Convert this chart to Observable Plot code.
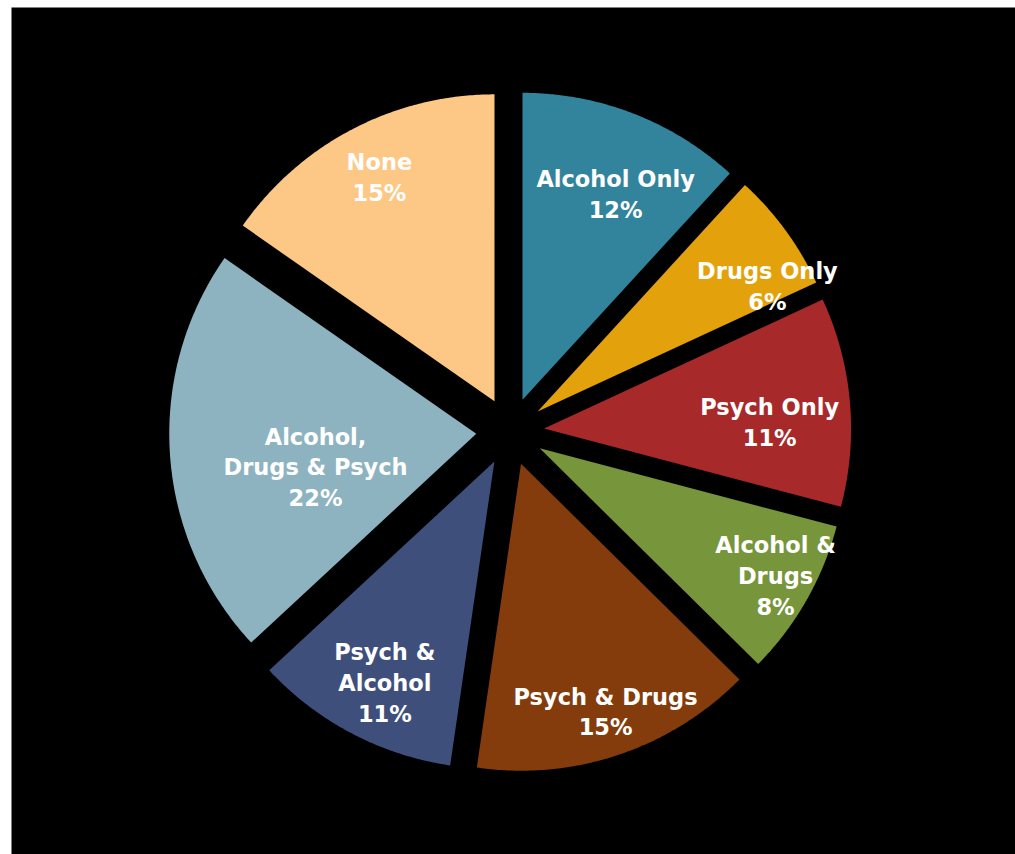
<!DOCTYPE html>
<html>
<head>
<meta charset="utf-8">
<script src="https://cdn.jsdelivr.net/npm/d3@7"></script>
<script src="https://cdn.jsdelivr.net/npm/@observablehq/plot@0.6"></script>
<style>
  html, body { margin: 0; padding: 0; background: #ffffff; }
  #chart svg { display: block; }
</style>
</head>
<body>
<div id="chart"></div>
<script>
// ---- data (percent shares; labels show rounded values) ----
const categories = ["Alcohol Only", "Drugs Only", "Psych Only", "Alcohol & Drugs", "Psych & Drugs", "Psych & Alcohol", "Alcohol, Drugs & Psych", "None"];
const values = [11.8, 6.3, 11.0, 8.3, 14.9, 10.8, 21.6, 15.3];
const labelLines = ["Alcohol Only", "Drugs Only", "Psych Only", "Alcohol &\nDrugs", "Psych & Drugs", "Psych &\nAlcohol", "Alcohol,\nDrugs & Psych", "None"];
const colors = ["#31849B", "#E3A20B", "#A8292A", "#77953A", "#843C0C", "#3F4F7C", "#8DB3C0", "#FDC886"];

// ---- layout ----
const W = 1015, H = 854;
const cx = 509.7, cy = 431, R = 307, explode = 34;
// label placement: [fraction of radius, angular shift in degrees]
const labelPlace = [[0.733, 3.2], [0.852, 7.65], [0.735, 3.64], [0.874, -1.2], [0.855, -0.25], [0.805, -1.4], [0.535, -7.9], [0.819, 0.3]];

const total = d3.sum(values);
let acc = 0;
const slices = values.map((v, i) => {
  const a0 = acc / total * 2 * Math.PI;
  acc += v;
  const a1 = acc / total * 2 * Math.PI;
  const mid = (a0 + a1) / 2;
  const ox = cx + explode * Math.sin(mid);
  const oy = cy - explode * Math.cos(mid);
  return {category: categories[i], value: v, a0, a1, mid, ox, oy, i};
});

const polyPts = [];
for (const s of slices) {
  polyPts.push({category: s.category, x: s.ox, y: s.oy});
  const N = 120;
  for (let k = 0; k <= N; k++) {
    const t = s.a0 + (s.a1 - s.a0) * k / N;
    polyPts.push({category: s.category, x: s.ox + R * Math.sin(t), y: s.oy - R * Math.cos(t)});
  }
  polyPts.push({category: s.category, x: s.ox, y: s.oy});
}

const labels = slices.map(s => {
  const [f, sh] = labelPlace[s.i];
  const a = s.mid + sh * Math.PI / 180;
  return {
    text: labelLines[s.i] + "\n" + Math.round(s.value / total * 100) + "%",
    x: s.ox + f * R * Math.sin(a),
    y: s.oy - f * R * Math.cos(a)
  };
});

const chart = Plot.plot({
  width: W,
  height: H,
  marginLeft: 11,
  marginTop: 7,
  marginRight: 0,
  marginBottom: 0,
  x: {domain: [0, W], range: [0, W], axis: null},
  y: {domain: [0, H], range: [0, H], axis: null},
  color: {domain: categories, range: colors},
  style: {background: "#ffffff"},
  marks: [
    Plot.frame({fill: "#000000", stroke: null}),
    Plot.line(polyPts, {x: "x", y: "y", z: "category", fill: "category", stroke: null, curve: "linear"}),
    Plot.text(labels, {
      x: "x", y: "y", text: "text",
      fill: "#ffffff",
      fontSize: 22.5,
      fontWeight: "bold",
      fontFamily: "DejaVu Sans",
      lineHeight: 1.37,
      lineAnchor: "middle",
      textAnchor: "middle",
      dy: -2
    })
  ]
});
document.getElementById("chart").appendChild(chart);
</script>
</body>
</html>
